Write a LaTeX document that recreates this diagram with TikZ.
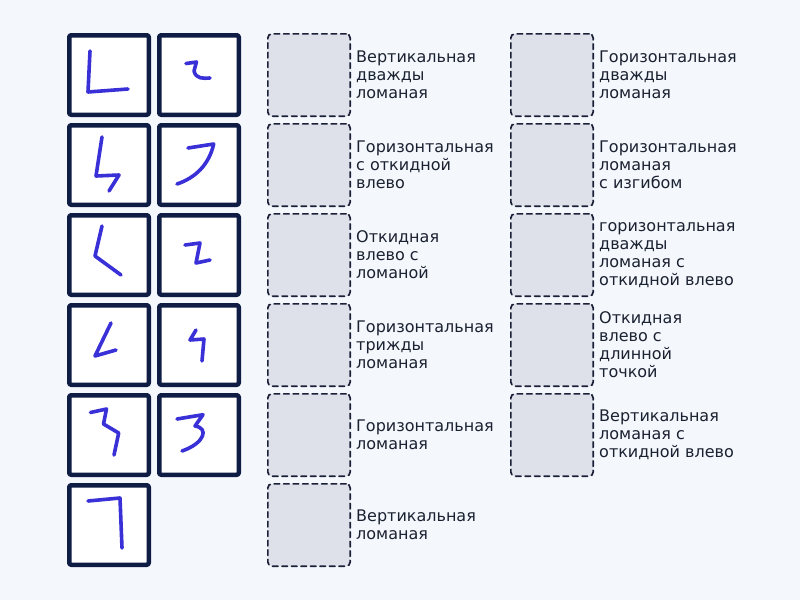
\documentclass[tikz,border=0pt]{standalone}
\usepackage{fontspec}
\setmainfont{DejaVu Sans}
\usetikzlibrary{positioning}
\definecolor{pagebg}{HTML}{F4F7FC}
\definecolor{tileline}{HTML}{0F1D45}
\definecolor{inkblue}{HTML}{3A30D8}
\definecolor{slotfill}{HTML}{DFE1EA}
\definecolor{slotline}{HTML}{1B2038}
\definecolor{textcol}{HTML}{1A2130}
\begin{document}
\begin{tikzpicture}[x=1pt, y=-1pt, line join=round, line cap=round,
		tile/.style={draw=tileline, fill=white, line width=4.5pt, rounded corners=2pt, minimum size=79.5pt, inner sep=0pt},
		slot/.style={draw=slotline, fill=slotfill, line width=1.7pt, dash pattern=on 5.5pt off 4pt, rounded corners=4pt, minimum size=82.3pt, inner sep=0pt},
		caption/.style={align=left, inner sep=0pt, text=textcol, font=\fontsize{16}{18}\selectfont},
		ink/.style={draw=inkblue, line width=3.6pt}]
			\fill[pagebg] (0,0) rectangle (800,600);
			\useasboundingbox (0,0) rectangle (800,600);
			% stroke tiles
			\foreach \r in {0,...,5}
			\node[tile] (t-0-\r) at (109,75+90*\r) {};
			\foreach \r in {0,...,4}
			\node[tile] (t-1-\r) at (199,75+90*\r) {};
			\draw[ink, shift={(t-0-0.north west)}] (23,18)--(21,59)--(61,56);
			\draw[ink, shift={(t-1-0.north west)}] (29,30.5)--(39.5,29)--(37,38) .. controls (39,46) and (46,45.5) .. (53,45);
			\draw[ink, shift={(t-0-1.north west)}] (35,14)--(29,53)--(52,52)--(42,68);
			\draw[ink, shift={(t-1-1.north west)}] (31,25)--(56.7,21) .. controls (52,42) and (38,55) .. (20,61);
			\draw[ink, shift={(t-0-2.north west)}] (35,13)--(28,43)--(54,62);
			\draw[ink, shift={(t-1-2.north west)}] (28,32)--(43,30)--(39,50)--(53,47);
			\draw[ink, shift={(t-0-3.north west)}] (44,20)--(28,53)--(49,47);
			\draw[ink, shift={(t-1-3.north west)}] (39,27)--(33,37)--(47,36)--(45,58);
			\draw[ink, shift={(t-0-4.north west)}] (23.5,19.5)--(39.5,16)--(36.5,31)--(51.7,40)--(47,62);
			\draw[ink, shift={(t-1-4.north west)}] (20,26)--(46,21.7)--(38,33) .. controls (52,35) and (48,50) .. (25,58);
			\draw[ink, shift={(t-0-5.north west)}] (21,18)--(53,15)--(55,65);
			% empty slots with names
			\foreach \r in {0,...,5}
			\node[slot] (s-0-\r) at (309,75+90*\r) {};
			\foreach \r in {0,...,4}
			\node[slot] (s-1-\r) at (552,75+90*\r) {};
			\foreach \r/\txt in {0/{Вертикальная\\дважды\\ломаная}, 1/{Горизонтальная\\с откидной\\влево}, 2/{Откидная\\влево с\\ломаной}, 3/{Горизонтальная\\трижды\\ломаная}, 4/{Горизонтальная\\ломаная}, 5/{Вертикальная\\ломаная}}
			\node[caption, right=5pt of s-0-\r] {\txt};
			\foreach \r/\txt in {0/{Горизонтальная\\дважды\\ломаная}, 1/{Горизонтальная\\ломаная\\с изгибом}, 2/{горизонтальная\\дважды\\ломаная с\\откидной влево}, 3/{Откидная\\влево с\\длинной\\точкой}, 4/{Вертикальная\\ломаная с\\откидной влево}}
			\node[caption, right=5pt of s-1-\r] {\txt};
		\end{tikzpicture}
\end{document}
